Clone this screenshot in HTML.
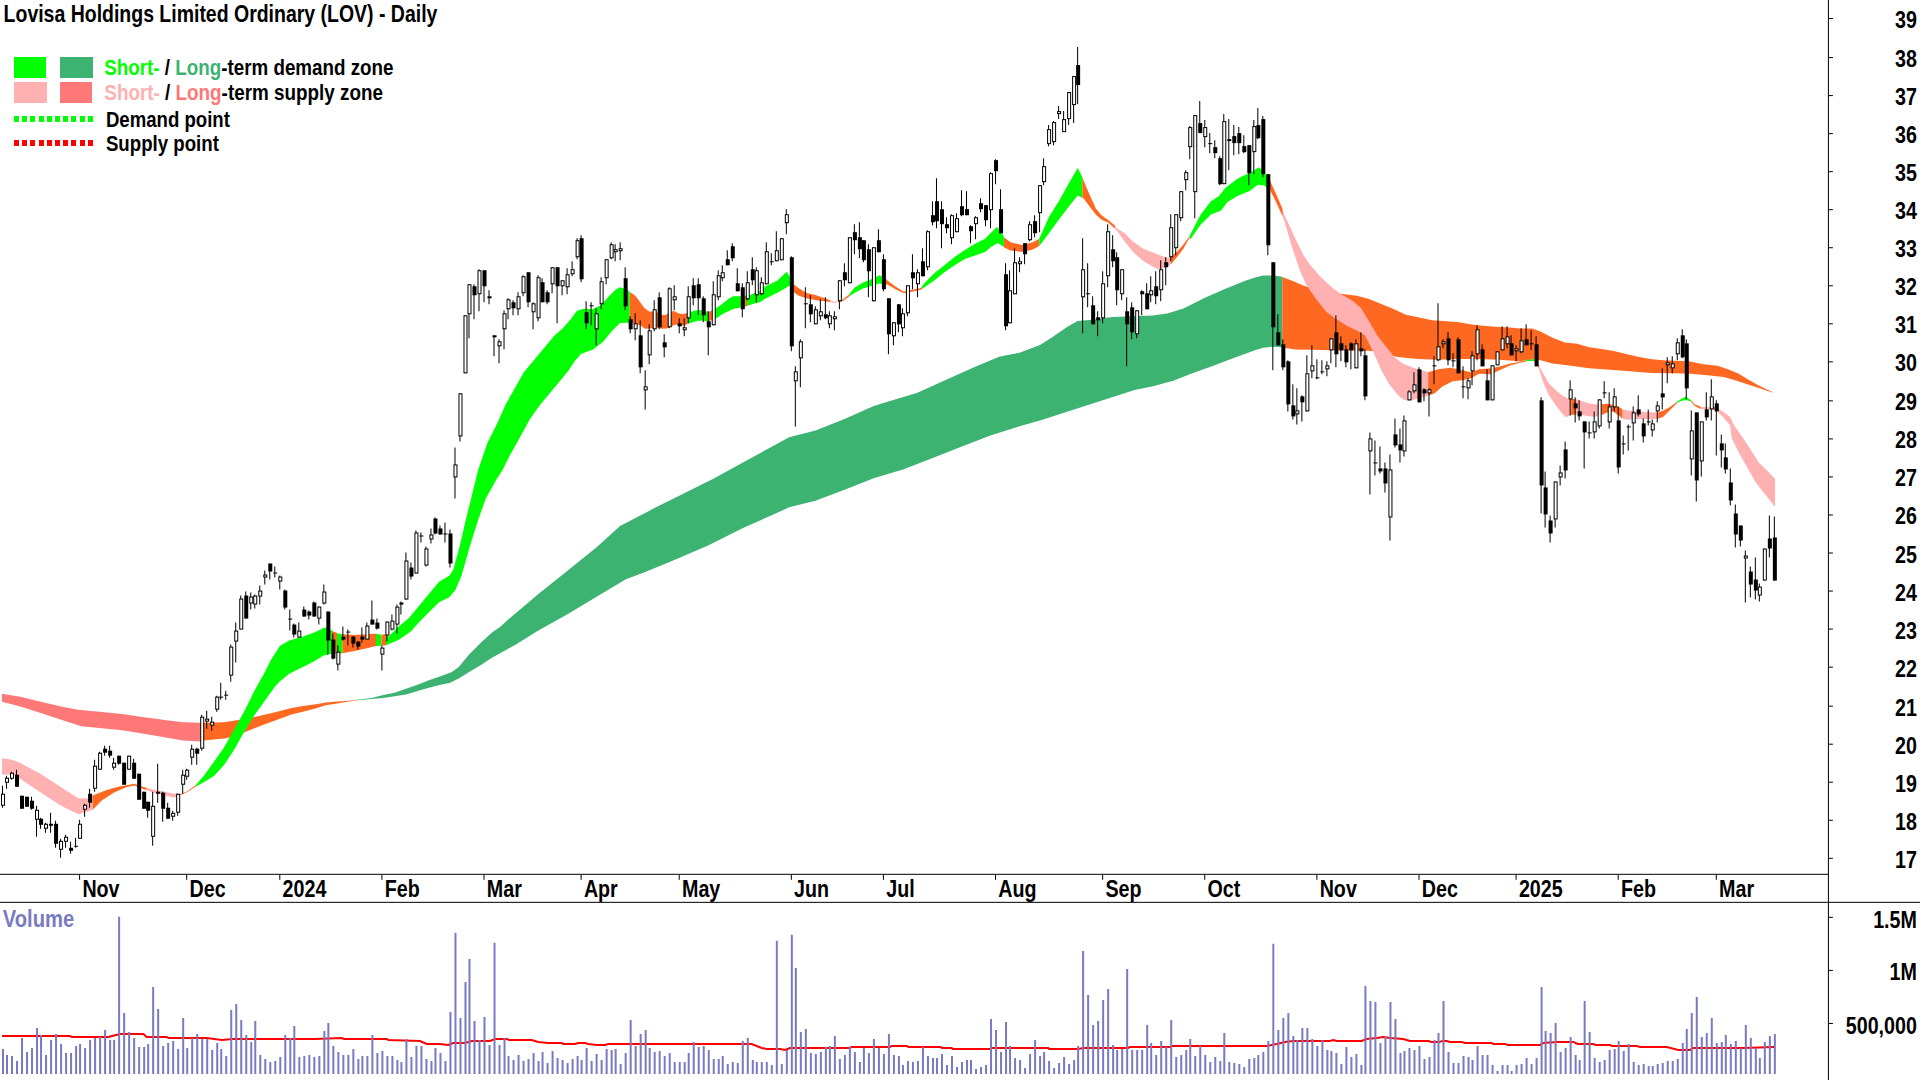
<!DOCTYPE html>
<html><head><meta charset="utf-8"><title>Lovisa Holdings Limited Ordinary (LOV) - Daily</title>
<style>html,body{margin:0;padding:0;background:#fff;}body{width:1920px;height:1080px;overflow:hidden;}svg{display:block;}text{font-family:"Liberation Sans", Arial, sans-serif;font-weight:bold;font-size:24px;}</style>
</head><body>
<svg width="1920" height="1080" viewBox="0 0 1920 1080">
<rect x="0" y="0" width="1920" height="1080" fill="#ffffff"/>
<g transform="scale(1.0010428,1.0009268)">
<g>
<polygon fill="#FF7878" points="2.0,693.0 2.0,693.0 20.3,696.0 40.7,701.1 61.0,705.8 78.3,709.2 101.7,711.3 122.1,713.3 142.4,716.4 162.8,719.0 183.1,721.5 200.4,722.1 202.3,722.1 202.3,740.2 200.4,740.8 183.1,739.8 162.8,736.3 142.4,732.7 122.1,729.6 101.7,727.6 81.4,725.5 61.0,719.0 40.7,712.3 20.3,705.8 2.0,701.1 2.0,701.1"/>
<polygon fill="#FF6820" points="202.3,722.1 203.5,722.1 223.8,721.5 238.1,719.4 254.3,716.4 270.6,712.7 279.7,710.4 291.2,707.3 302.6,705.3 314.0,703.9 325.5,701.8 336.9,700.9 348.4,700.1 356.9,699.2 356.9,699.6 348.4,700.9 336.9,702.8 325.5,704.7 314.0,708.1 302.6,711.0 291.2,713.9 279.7,718.1 264.5,723.5 254.3,727.6 244.2,731.6 232.0,736.3 223.8,737.7 203.5,739.8 202.3,740.2"/>
<polygon fill="#3CB371" points="356.9,699.2 357.0,699.2 371.3,697.3 382.7,694.4 394.2,692.1 405.6,688.1 417.1,684.1 428.5,679.5 440.0,675.5 451.4,671.5 458.3,666.4 468.6,653.8 480.0,642.3 491.5,632.0 499.5,626.3 508.6,618.2 537.8,593.4 566.9,570.1 596.0,546.8 619.4,525.5 654.3,507.4 683.5,492.9 712.6,478.3 741.7,462.3 770.9,446.3 788.3,436.9 814.6,430.2 843.7,418.6 872.8,405.5 887.4,401.1 916.5,392.3 945.7,379.2 974.8,366.1 998.1,356.5 1018.5,352.4 1038.9,344.8 1050.0,337.7 1066.3,326.5 1076.5,320.8 1090.7,319.4 1111.1,316.8 1131.4,316.0 1151.8,315.3 1166.0,313.3 1182.3,308.2 1202.6,298.0 1223.0,288.9 1243.3,280.8 1253.7,277.2 1261.8,275.2 1272.0,275.2 1280.6,276.6 1280.9,276.7 1280.9,347.1 1280.6,347.0 1272.0,346.4 1261.8,347.5 1253.7,349.9 1233.1,357.5 1212.8,365.2 1192.4,372.3 1172.1,380.5 1151.8,386.0 1133.4,389.6 1038.9,420.0 1018.5,425.9 989.4,435.2 960.2,446.3 931.1,457.9 902.0,469.0 872.8,477.7 843.7,489.4 814.6,500.2 788.3,506.9 770.9,514.7 741.7,527.8 706.8,545.3 668.9,561.4 642.7,572.1 625.2,578.8 596.0,596.3 566.9,613.8 537.8,629.8 514.5,644.4 499.5,652.6 491.5,657.2 480.0,664.6 468.6,671.5 458.3,677.8 449.1,682.4 440.0,684.1 428.5,687.0 417.1,690.4 405.6,693.8 394.2,695.6 382.7,697.3 371.3,698.4 357.0,699.6 356.9,699.6"/>
<polygon fill="#FF6820" points="1280.9,276.7 1290.3,280.3 1302.5,285.4 1314.7,289.5 1326.9,291.9 1339.2,293.5 1355.4,295.6 1367.6,298.6 1379.9,303.7 1392.1,308.8 1404.3,314.5 1416.5,316.9 1430.7,320.0 1445.0,321.0 1457.2,322.0 1473.5,324.7 1489.7,326.1 1508.0,327.1 1518.4,328.2 1530.6,328.2 1538.8,331.3 1551.0,337.4 1563.2,342.1 1575.4,343.5 1587.6,346.9 1599.8,348.6 1612.0,350.6 1624.2,353.7 1636.4,356.3 1648.6,358.7 1660.9,360.0 1673.1,360.4 1687.3,360.8 1701.5,363.8 1715.8,365.3 1726.0,368.9 1736.1,373.0 1746.3,379.1 1756.5,384.8 1764.6,388.9 1772.8,392.3 1773.2,392.3 1773.2,392.3 1772.8,392.3 1766.7,390.9 1758.5,388.2 1746.3,384.2 1734.1,380.1 1721.9,376.6 1705.6,375.0 1689.3,373.4 1669.0,373.0 1648.6,372.6 1628.3,370.9 1607.9,369.3 1587.6,367.9 1569.3,365.3 1551.0,363.2 1538.8,359.8 1530.6,359.1 1518.4,360.8 1497.9,359.3 1477.5,358.6 1457.2,358.6 1436.8,359.3 1416.5,358.6 1396.1,356.6 1375.8,351.5 1367.6,350.5 1345.3,350.1 1329.0,349.9 1310.7,349.5 1294.4,349.1 1280.9,347.1"/>
<polygon fill="#FFB0B0" points="2.0,757.5 2.0,757.5 12.2,759.1 20.3,762.2 40.7,773.4 61.0,786.6 78.3,797.4 89.5,797.8 92.6,794.7 92.6,794.7 92.6,808.9 92.6,809.0 89.5,810.0 78.3,813.6 61.0,804.9 40.7,791.7 20.3,778.4 15.3,775.4 10.2,774.0 2.0,773.8 2.0,773.8"/>
<polygon fill="#FF6820" points="92.6,794.7 105.8,789.6 118.0,786.0 134.3,783.1 142.4,786.0 146.5,787.1 146.5,789.5 142.4,788.0 134.3,784.7 126.2,786.6 113.9,791.7 101.7,799.8 92.6,808.9"/>
<polygon fill="#FFB0B0" points="146.5,787.1 152.6,788.8 158.7,790.0 173.0,792.7 177.0,792.7 177.8,793.1 177.8,795.3 177.0,795.7 173.0,796.8 158.7,793.3 152.6,791.7 146.5,789.5"/>
<polygon fill="#FF6820" points="177.8,793.1 179.1,793.7 187.2,790.6 195.3,784.5 195.4,784.5 195.4,785.9 195.3,786.0 187.2,791.3 179.1,794.7 177.8,795.3"/>
<polygon fill="#00FF00" points="195.4,784.5 203.5,775.4 213.7,761.1 223.8,746.9 234.0,728.6 244.2,710.3 254.3,689.9 264.5,671.6 270.6,659.4 279.7,645.2 288.9,640.0 302.6,636.0 314.0,632.0 324.3,626.9 327.8,628.0 331.7,630.2 331.7,653.2 327.8,653.8 323.2,654.9 314.0,660.6 302.6,666.4 288.9,673.2 279.7,680.7 274.7,685.8 264.5,700.1 254.3,714.3 244.2,730.6 234.0,748.9 223.8,764.2 213.7,775.4 203.5,781.5 195.4,785.9"/>
<polygon fill="#FF6820" points="331.7,630.2 331.8,630.3 336.6,632.5 336.6,652.9 331.8,653.2 331.7,653.2"/>
<polygon fill="#00FF00" points="336.6,632.5 336.9,632.6 342.1,633.7 342.1,633.7 342.1,652.6 342.1,652.6 336.6,652.9"/>
<polygon fill="#FF6820" points="342.1,633.7 354.1,634.3 365.6,633.7 375.6,633.2 375.6,645.5 365.6,648.0 354.1,650.3 342.1,652.6"/>
<polygon fill="#00FF00" points="375.6,633.2 375.6,633.2 381.0,634.1 381.0,645.2 375.6,645.5 375.6,645.5"/>
<polygon fill="#FF6820" points="381.0,634.1 381.0,634.1 385.6,633.4 385.6,633.4 385.6,644.6 385.6,644.6 381.0,645.2 381.0,645.2"/>
<polygon fill="#00FF00" points="385.6,633.4 387.7,636.3 397.9,626.1 408.1,617.9 418.3,605.7 428.4,593.5 438.6,581.3 448.8,575.2 452.8,569.1 459.0,546.7 465.1,520.3 471.2,495.8 475.2,479.6 477.6,469.6 486.7,443.1 496.9,422.7 505.0,404.4 515.2,386.1 523.3,371.9 533.5,359.7 543.7,347.5 553.9,335.2 562.0,328.1 570.1,319.0 576.2,310.8 582.3,308.4 592.5,308.8 600.7,304.7 608.8,295.6 614.9,289.5 619.4,287.0 626.6,289.2 629.1,292.1 629.1,322.7 626.6,322.4 619.4,322.7 610.8,331.2 602.7,341.3 592.5,349.1 580.3,353.6 574.2,360.7 568.1,369.8 560.0,380.0 549.8,392.2 539.6,404.4 529.4,418.7 519.3,437.0 509.1,455.3 502.0,469.6 495.6,479.6 485.4,497.9 477.3,520.3 469.1,546.7 461.0,575.2 454.9,589.4 448.8,596.6 438.6,601.7 428.4,611.8 418.3,622.0 410.1,631.2 397.9,639.3 385.6,644.6"/>
<polygon fill="#FF6820" points="629.1,292.1 629.2,292.1 633.9,294.7 638.3,300.1 643.4,307.4 648.5,311.1 652.1,311.1 657.2,312.2 661.6,314.7 665.2,314.7 668.9,311.8 673.3,310.7 677.6,312.9 682.0,314.0 685.6,312.9 687.1,312.5 687.1,323.5 683.5,325.3 679.1,324.9 674.7,324.2 670.3,326.4 666.0,328.2 661.6,328.5 655.8,327.1 649.9,328.2 644.1,328.5 639.7,324.9 633.9,323.5 629.2,322.7 629.1,322.7"/>
<polygon fill="#00FF00" points="687.1,312.5 689.3,311.8 695.1,310.3 699.5,309.6 705.3,311.1 707.2,311.3 707.2,321.1 706.8,321.3 702.4,320.5 696.6,320.5 692.2,322.0 687.8,323.1 687.1,323.5"/>
<polygon fill="#FF6820" points="707.2,311.3 708.9,311.4 711.2,310.3 711.2,319.8 711.1,319.8 707.2,321.1"/>
<polygon fill="#00FF00" points="711.2,310.3 714.0,308.9 721.3,303.8 728.6,298.0 732.3,296.1 738.8,296.1 743.2,295.8 744.2,295.6 744.2,306.3 743.2,306.7 738.8,307.4 733.0,308.5 727.2,311.1 721.3,314.0 716.2,317.6 711.2,319.8"/>
<polygon fill="#FF6820" points="744.2,295.6 746.2,295.4 746.2,305.7 744.2,306.3"/>
<polygon fill="#00FF00" points="746.2,295.4 749.0,295.0 753.4,292.9 759.2,291.0 764.4,286.3 776.6,280.2 785.7,271.4 788.8,276.1 789.8,278.4 789.8,287.1 788.8,285.3 785.7,287.3 776.6,292.4 764.4,298.5 759.2,302.0 753.4,303.1 747.6,305.2 746.2,305.7"/>
<polygon fill="#FF6820" points="789.8,278.4 791.9,283.3 796.9,287.3 805.1,292.4 815.3,295.1 825.4,298.5 829.1,299.9 829.1,301.8 825.4,301.2 815.3,299.9 805.1,297.9 796.9,295.1 791.9,291.0 789.8,287.1"/>
<polygon fill="#FFB0B0" points="829.1,299.9 833.6,301.6 837.6,300.6 837.6,301.8 833.6,302.6 829.1,301.8"/>
<polygon fill="#FF6820" points="837.6,300.6 841.7,299.5 847.8,294.4 848.8,293.3 848.8,295.8 847.8,296.5 841.7,301.0 837.6,301.8"/>
<polygon fill="#00FF00" points="848.8,293.3 853.9,287.3 862.1,282.2 872.2,278.2 878.3,275.1 883.4,277.1 884.4,278.1 884.4,284.3 883.4,284.3 878.3,283.3 872.2,285.3 862.1,288.3 853.9,292.4 848.8,295.8"/>
<polygon fill="#FF6820" points="884.4,278.1 886.5,280.2 894.6,286.3 902.8,291.4 910.9,289.4 920.0,287.7 921.0,286.3 921.0,288.7 920.0,289.4 910.9,291.4 902.8,293.0 894.6,288.9 886.5,284.3 884.4,284.3"/>
<polygon fill="#00FF00" points="921.0,286.3 923.1,283.3 933.3,273.1 943.4,264.9 953.6,256.8 963.8,249.7 974.0,243.6 984.1,238.5 990.2,232.4 995.3,227.3 996.1,226.8 1001.2,232.9 1002.8,237.0 1002.9,237.0 1002.9,246.8 1002.2,246.2 997.1,243.1 995.3,243.6 990.2,246.6 984.1,251.7 974.0,255.2 963.8,258.8 953.6,264.9 943.4,272.1 933.3,280.2 923.1,287.3 921.0,288.7"/>
<polygon fill="#FF6820" points="1002.9,237.0 1009.3,242.1 1021.5,244.7 1031.7,242.1 1037.4,239.0 1038.2,237.9 1038.2,245.6 1037.4,246.2 1031.7,249.2 1021.5,251.7 1009.3,250.2 1003.2,247.2 1002.9,246.8"/>
<polygon fill="#00FF00" points="1038.2,237.9 1038.8,237.0 1048.0,216.6 1058.2,200.4 1068.3,182.1 1071.5,176.5 1076.6,167.9 1080.6,175.5 1081.2,177.0 1081.2,197.6 1080.5,197.3 1076.5,195.3 1068.3,205.5 1058.2,218.7 1048.0,232.9 1038.8,245.1 1038.2,245.6"/>
<polygon fill="#FF6820" points="1081.2,177.0 1081.6,178.0 1086.6,190.2 1094.8,208.5 1100.9,215.6 1107.0,219.7 1113.1,224.8 1114.3,226.7 1114.3,229.1 1113.1,227.8 1107.0,222.3 1100.9,219.7 1094.8,214.6 1088.7,206.5 1082.6,198.3 1081.2,197.6"/>
<polygon fill="#FFB0B0" points="1114.3,226.7 1115.1,227.8 1123.3,232.9 1131.4,241.1 1141.6,248.2 1151.8,252.3 1161.9,256.3 1168.0,257.8 1169.5,256.7 1169.5,263.9 1166.0,266.5 1157.9,269.2 1151.8,266.5 1141.6,260.4 1131.4,251.2 1123.3,241.1 1116.1,230.9 1114.3,229.1"/>
<polygon fill="#FF6820" points="1169.5,256.7 1170.1,256.3 1176.2,251.2 1182.3,244.1 1188.0,236.6 1188.3,235.6 1188.4,235.5 1188.4,238.2 1188.0,238.0 1182.3,248.2 1176.2,256.3 1170.1,263.5 1169.5,263.9"/>
<polygon fill="#00FF00" points="1188.4,235.5 1199.5,214.2 1209.7,201.0 1217.8,195.9 1223.9,187.8 1236.1,178.6 1244.3,174.6 1252.4,170.5 1257.5,167.0 1262.6,171.5 1266.2,176.0 1266.2,187.5 1262.6,185.3 1256.5,184.7 1248.3,190.8 1236.1,195.9 1225.9,202.0 1219.8,210.2 1209.7,214.2 1199.5,224.4 1189.3,238.7 1188.4,238.2"/>
<polygon fill="#FF6820" points="1266.2,176.0 1266.6,176.6 1268.7,180.7 1274.8,193.9 1280.9,208.1 1281.4,209.6 1281.4,216.5 1280.9,215.3 1274.8,202.0 1268.7,189.8 1266.6,187.8 1266.2,187.5"/>
<polygon fill="#FFB0B0" points="1281.4,209.6 1282.9,214.2 1286.0,220.7 1294.2,239.0 1302.3,255.3 1308.6,264.5 1318.8,276.2 1331.0,287.4 1339.2,293.5 1351.4,300.6 1359.5,307.8 1367.6,321.0 1375.8,335.2 1383.9,345.4 1392.1,355.6 1400.2,362.7 1408.3,366.2 1416.5,368.8 1426.7,371.9 1426.7,371.9 1426.7,395.3 1426.7,395.3 1408.3,400.4 1402.2,399.3 1396.1,394.3 1388.0,384.1 1379.9,369.8 1371.7,351.5 1363.6,335.2 1355.4,330.2 1345.3,325.5 1335.1,319.0 1324.9,311.8 1314.7,298.6 1308.6,289.9 1304.4,283.8 1298.3,269.6 1290.1,245.1 1282.9,220.3 1281.4,216.5"/>
<polygon fill="#FF6820" points="1426.7,371.9 1436.8,368.8 1449.0,367.4 1461.2,369.8 1469.4,371.9 1477.5,368.8 1489.7,367.8 1497.9,366.2 1508.0,363.3 1518.2,361.3 1524.4,360.0 1524.4,361.1 1518.2,362.3 1508.0,365.4 1497.9,369.8 1489.7,373.9 1477.5,373.5 1469.4,378.0 1461.2,380.0 1451.1,381.0 1440.9,386.1 1432.8,393.2 1426.7,395.3"/>
<polygon fill="#00FF00" points="1524.4,360.0 1526.4,359.7 1532.4,358.7 1532.4,360.7 1526.4,360.7 1524.4,361.1"/>
<polygon fill="#FF6820" points="1532.4,358.7 1532.5,358.6 1536.5,363.7 1537.4,365.3 1537.4,368.5 1536.5,365.8 1532.5,360.7 1532.4,360.7"/>
<polygon fill="#FFB0B0" points="1537.4,365.3 1541.9,373.6 1547.1,383.0 1553.4,389.2 1559.6,394.4 1565.9,398.1 1569.5,398.6 1569.5,414.7 1564.3,416.8 1559.6,412.1 1553.4,403.8 1547.1,394.4 1541.9,383.0 1537.4,368.5"/>
<polygon fill="#FF6820" points="1569.5,398.6 1569.5,398.6 1574.2,398.6 1574.2,414.2 1569.5,414.7 1569.5,414.7"/>
<polygon fill="#FFB0B0" points="1574.2,398.6 1574.2,398.6 1580.4,400.7 1586.7,402.8 1592.9,403.8 1600.2,403.8 1600.2,403.8 1600.2,414.7 1600.2,414.7 1592.9,416.3 1586.7,415.8 1580.4,414.7 1574.2,414.2 1574.2,414.2"/>
<polygon fill="#FF6820" points="1600.2,403.8 1605.4,403.3 1611.7,404.3 1616.9,406.4 1621.0,409.0 1621.0,418.4 1616.9,415.2 1611.7,411.1 1605.4,412.1 1600.2,414.7"/>
<polygon fill="#FFB0B0" points="1621.0,409.0 1621.0,409.0 1626.2,410.0 1632.5,410.6 1640.8,411.3 1648.1,411.9 1656.4,412.1 1656.4,418.4 1648.1,418.9 1640.8,418.6 1632.5,418.9 1626.2,419.4 1621.0,418.4 1621.0,418.4"/>
<polygon fill="#FF6820" points="1656.4,412.1 1656.4,412.1 1661.6,410.0 1667.8,406.9 1675.1,401.7 1675.2,401.7 1675.2,402.7 1675.1,402.8 1667.8,410.0 1661.6,416.3 1656.4,418.4 1656.4,418.4"/>
<polygon fill="#00FF00" points="1675.2,401.7 1679.3,398.6 1684.0,396.5 1689.1,399.6 1689.1,401.2 1684.0,399.6 1679.3,400.7 1675.2,402.7"/>
<polygon fill="#FF6820" points="1689.1,399.6 1689.2,399.6 1692.8,403.8 1699.0,406.4 1699.0,408.5 1692.8,405.4 1689.2,401.2 1689.1,401.2"/>
<polygon fill="#FFB0B0" points="1699.0,406.4 1699.1,406.4 1705.3,406.9 1712.1,406.4 1712.1,409.5 1705.3,409.0 1699.1,408.5 1699.0,408.5"/>
<polygon fill="#FF6820" points="1712.1,406.4 1712.6,406.4 1715.7,408.0 1715.7,411.1 1712.6,409.5 1712.1,409.5"/>
<polygon fill="#FFB0B0" points="1715.7,408.0 1720.9,411.1 1728.2,416.3 1732.1,424.9 1740.2,436.1 1748.3,448.3 1756.5,461.5 1764.6,469.6 1772.8,477.8 1773.2,477.8 1773.2,505.7 1772.8,505.7 1762.6,493.1 1754.5,482.9 1746.3,468.6 1738.2,454.4 1730.0,438.1 1728.2,424.6 1720.9,416.3 1715.7,411.1"/>
</g>
<g>
<path d="M2 785v22M6 775v13M11 771v8M16 769v17M21 795v13M26 796v10M31 796v13M36 805v31M40 817v11M45 822v10M50 812v20M55 820v27M60 838v19M65 834v13M70 841v12M75 837v10M79 819v19M84 803v13M89 788v19M94 759v32M99 751v18M104 745v10M109 745v12M113 757v12M118 755v9M123 762v22M128 755v14M133 758v20M138 773v26M143 791v17M147 801v16M152 791v54M157 763v39M162 791v30M167 802v16M172 810v10M177 793v22M182 769v24M186 768v11M191 744v20M196 747v17M201 714v36M206 710v18M211 716v14M216 695v16M220 682v17M225 690v9M230 644v37M235 622v40M240 595v34M245 591v27M250 592v17M254 594v14M259 585v19M264 570v14M269 563v16M274 566v11M279 575v14M284 589v20M289 609v21M293 623v14M298 622v15M303 606v10M308 610v9M313 601v15M318 606v18M323 584v20M327 611v43M332 633v26M337 645v25M342 626v14M347 629v16M352 636v11M357 641v8M361 627v15M366 622v17M371 600v24M376 618v11M381 645v25M386 621v20M391 614v16M396 604v29M400 601v13M405 552v47M410 562v17M415 530v43M420 532v10M425 546v20M430 528v15M434 517v17M439 525v9M444 522v20M449 529v38M454 447v51M459 393v48M464 315v58M468 284v54M473 284v35M478 269v42M483 270v32M488 290v14M493 335v21M498 339v24M503 310v39M507 298v21M512 300v15M517 292v23M522 275v21M527 272v35M532 302v27M537 275v46M541 278v24M546 290v14M551 267v26M556 267v56M561 280v15M566 268v26M571 261v15M576 238v21M580 235v47M585 301v28M590 302v23M595 308v37M600 277v32M605 259v25M610 242v17M614 244v17M619 242v18M624 267v43M629 316v17M634 313v27M639 320v53M644 370v39M648 324v40M653 300v31M658 292v37M663 334v23M668 287v41M673 285v25M678 318v15M683 318v18M687 286v37M692 278v27M697 278v37M702 296v26M707 311v44M712 281v44M717 270v30M721 265v16M726 250v15M731 243v18M736 268v23M741 283v34M746 271v29M751 257v28M755 267v35M760 277v18M765 242v42M770 253v12M775 231v30M780 238v22M785 209v25M790 256v95M794 366v60M799 339v48M804 287v41M809 295v27M814 306v18M819 299v21M824 297v22M828 311v17M833 311v19M838 280v29M843 263v23M848 237v46M853 224v30M858 222v36M862 240v22M867 244v53M872 247v54M877 229v23M882 254v37M887 298v56M892 322v23M897 304v28M901 308v28M906 285v31M911 254v35M916 269v28M921 248v28M926 230v40M931 201v24M935 178v50M940 201v47M945 217v16M950 214v30M955 213v19M960 190v26M965 191v24M969 225v18M974 216v23M979 198v14M984 205v21M989 172v56M994 159v25M999 189v44M1004 263v67M1008 270v53M1013 248v46M1018 257v15M1023 243v21M1028 221v20M1033 215v22M1038 185v47M1042 158v27M1047 125v21M1052 121v24M1057 106v13M1062 111v21M1067 92v33M1072 76v47M1076 47v57M1081 238v95M1086 263v44M1091 296v28M1096 311v25M1101 271v52M1106 224v63M1111 235v32M1115 252v53M1120 269v31M1125 297v69M1130 302v37M1135 310v28M1140 290v25M1145 283v26M1149 276v26M1154 271v33M1159 260v41M1164 257v28M1169 214v47M1174 214v41M1179 191v30M1184 170v20M1188 126v33M1193 115v103M1198 101v32M1203 120v27M1208 133v20M1213 140v18M1218 156v29M1222 114v70M1227 119v51M1232 125v30M1237 127v27M1242 135v18M1247 145v40M1252 120v54M1256 108v31M1261 116v61M1266 174v81M1271 262v108M1276 314v31M1281 339v31M1286 360v51M1291 384v35M1295 388v36M1300 395v26M1305 355v56M1310 345v33M1315 359v20M1320 360v14M1325 361v15M1329 338v25M1334 315v52M1339 336v25M1344 345v22M1349 342v27M1354 339v29M1359 332v24M1363 349v51M1368 432v62M1373 440v35M1378 446v27M1383 462v30M1388 454v86M1393 418v29M1398 428v34M1402 415v41M1407 390v10M1412 372v21M1417 367v35M1422 388v13M1427 388v28M1432 356v28M1436 303v58M1441 339v9M1446 332v33M1451 353v14M1456 337v36M1461 366v32M1466 378v21M1470 351v34M1475 325v35M1480 344v22M1485 369v31M1490 365v35M1495 351v14M1500 326v24M1505 326v22M1509 335v20M1514 345v16M1519 328v25M1524 324v21M1529 330v20M1534 336v30M1539 397v116M1543 471v56M1548 515v27M1553 481v46M1558 465v20M1563 441v37M1568 380v35M1573 397v25M1577 400v20M1582 421v47M1587 421v17M1592 411v27M1597 399v29M1602 381v17M1607 392v36M1612 388v23M1616 406v67M1621 435v19M1626 424v26M1631 406v34M1636 395v21M1641 418v24M1646 409v16M1650 419v17M1655 401v21M1660 368v41M1665 357v26M1670 356v17M1675 338v22M1680 329v29M1684 339v60M1689 410v65M1694 412v89M1699 421v55M1704 392v28M1709 379v41M1714 400v55M1719 434v33M1723 443v30M1728 468v37M1733 504v43M1738 525v21M1743 550v52M1748 566v31M1753 557v42M1757 583v18M1762 548v32M1767 515v42M1772 516v64" stroke="#000" stroke-width="1" fill="none" transform="translate(0.5,0)"/>
<g fill="#000"><rect x="15" y="774" width="4" height="12"/><rect x="20" y="795" width="4" height="13"/><rect x="25" y="796" width="4" height="10"/><rect x="30" y="800" width="4" height="8"/><rect x="39" y="818" width="4" height="6"/><rect x="49" y="823" width="4" height="2"/><rect x="54" y="823" width="4" height="20"/><rect x="69" y="847" width="4" height="3"/><rect x="74" y="845" width="4" height="1"/><rect x="88" y="793" width="4" height="9"/><rect x="103" y="748" width="4" height="4"/><rect x="108" y="750" width="4" height="5"/><rect x="117" y="755" width="4" height="8"/><rect x="122" y="762" width="4" height="22"/><rect x="132" y="762" width="4" height="16"/><rect x="137" y="773" width="4" height="26"/><rect x="142" y="791" width="4" height="17"/><rect x="146" y="801" width="4" height="9"/><rect x="156" y="791" width="4" height="2"/><rect x="161" y="792" width="4" height="16"/><rect x="166" y="807" width="4" height="11"/><rect x="195" y="748" width="4" height="5"/><rect x="219" y="696" width="4" height="1"/><rect x="224" y="694" width="4" height="1"/><rect x="244" y="595" width="4" height="23"/><rect x="268" y="563" width="4" height="8"/><rect x="273" y="572" width="4" height="1"/><rect x="283" y="590" width="4" height="17"/><rect x="288" y="618" width="4" height="1"/><rect x="292" y="624" width="4" height="10"/><rect x="302" y="609" width="4" height="7"/><rect x="307" y="611" width="4" height="4"/><rect x="312" y="602" width="4" height="14"/><rect x="326" y="611" width="4" height="29"/><rect x="331" y="639" width="4" height="19"/><rect x="341" y="636" width="4" height="3"/><rect x="346" y="631" width="4" height="1"/><rect x="351" y="636" width="4" height="7"/><rect x="356" y="641" width="4" height="5"/><rect x="360" y="636" width="4" height="3"/><rect x="370" y="619" width="4" height="5"/><rect x="375" y="622" width="4" height="6"/><rect x="399" y="602" width="4" height="2"/><rect x="409" y="567" width="4" height="9"/><rect x="419" y="535" width="4" height="1"/><rect x="433" y="518" width="4" height="15"/><rect x="438" y="528" width="4" height="6"/><rect x="443" y="533" width="4" height="1"/><rect x="448" y="533" width="4" height="30"/><rect x="472" y="286" width="4" height="9"/><rect x="482" y="270" width="4" height="16"/><rect x="487" y="296" width="4" height="2"/><rect x="492" y="335" width="4" height="2"/><rect x="511" y="302" width="4" height="6"/><rect x="526" y="272" width="4" height="30"/><rect x="540" y="282" width="4" height="20"/><rect x="545" y="292" width="4" height="10"/><rect x="555" y="267" width="4" height="19"/><rect x="579" y="238" width="4" height="41"/><rect x="584" y="312" width="4" height="11"/><rect x="589" y="305" width="4" height="1"/><rect x="623" y="278" width="4" height="28"/><rect x="628" y="319" width="4" height="10"/><rect x="638" y="335" width="4" height="32"/><rect x="657" y="297" width="4" height="30"/><rect x="662" y="342" width="4" height="5"/><rect x="677" y="323" width="4" height="3"/><rect x="691" y="285" width="4" height="13"/><rect x="696" y="284" width="4" height="14"/><rect x="701" y="298" width="4" height="17"/><rect x="706" y="321" width="4" height="6"/><rect x="725" y="259" width="4" height="6"/><rect x="730" y="246" width="4" height="12"/><rect x="735" y="283" width="4" height="8"/><rect x="740" y="287" width="4" height="22"/><rect x="750" y="269" width="4" height="11"/><rect x="769" y="261" width="4" height="1"/><rect x="789" y="257" width="4" height="89"/><rect x="803" y="303" width="4" height="1"/><rect x="808" y="304" width="4" height="10"/><rect x="823" y="314" width="4" height="4"/><rect x="842" y="272" width="4" height="8"/><rect x="852" y="232" width="4" height="8"/><rect x="857" y="237" width="4" height="12"/><rect x="861" y="240" width="4" height="20"/><rect x="866" y="249" width="4" height="22"/><rect x="876" y="240" width="4" height="12"/><rect x="881" y="259" width="4" height="30"/><rect x="886" y="298" width="4" height="36"/><rect x="896" y="304" width="4" height="20"/><rect x="910" y="272" width="4" height="6"/><rect x="920" y="261" width="4" height="15"/><rect x="930" y="215" width="4" height="7"/><rect x="934" y="201" width="4" height="20"/><rect x="939" y="209" width="4" height="15"/><rect x="944" y="224" width="4" height="4"/><rect x="959" y="206" width="4" height="9"/><rect x="964" y="209" width="4" height="6"/><rect x="968" y="226" width="4" height="5"/><rect x="978" y="203" width="4" height="6"/><rect x="983" y="205" width="4" height="15"/><rect x="993" y="160" width="4" height="11"/><rect x="998" y="209" width="4" height="24"/><rect x="1003" y="274" width="4" height="52"/><rect x="1022" y="243" width="4" height="11"/><rect x="1032" y="221" width="4" height="12"/><rect x="1075" y="65" width="4" height="20"/><rect x="1085" y="293" width="4" height="1"/><rect x="1090" y="305" width="4" height="19"/><rect x="1095" y="317" width="4" height="3"/><rect x="1110" y="249" width="4" height="12"/><rect x="1114" y="257" width="4" height="33"/><rect x="1124" y="311" width="4" height="13"/><rect x="1129" y="307" width="4" height="25"/><rect x="1139" y="291" width="4" height="3"/><rect x="1144" y="293" width="4" height="16"/><rect x="1153" y="286" width="4" height="10"/><rect x="1163" y="262" width="4" height="5"/><rect x="1197" y="123" width="4" height="10"/><rect x="1207" y="143" width="4" height="1"/><rect x="1212" y="147" width="4" height="6"/><rect x="1217" y="158" width="4" height="26"/><rect x="1226" y="139" width="4" height="2"/><rect x="1231" y="136" width="4" height="7"/><rect x="1236" y="133" width="4" height="10"/><rect x="1241" y="146" width="4" height="6"/><rect x="1246" y="145" width="4" height="28"/><rect x="1255" y="125" width="4" height="13"/><rect x="1260" y="119" width="4" height="55"/><rect x="1265" y="174" width="4" height="71"/><rect x="1270" y="262" width="4" height="65"/><rect x="1275" y="332" width="4" height="13"/><rect x="1280" y="344" width="4" height="23"/><rect x="1285" y="361" width="4" height="43"/><rect x="1290" y="405" width="4" height="11"/><rect x="1299" y="396" width="4" height="6"/><rect x="1314" y="377" width="4" height="1"/><rect x="1319" y="371" width="4" height="1"/><rect x="1333" y="332" width="4" height="22"/><rect x="1338" y="343" width="4" height="7"/><rect x="1343" y="349" width="4" height="13"/><rect x="1348" y="343" width="4" height="7"/><rect x="1358" y="348" width="4" height="3"/><rect x="1362" y="355" width="4" height="41"/><rect x="1372" y="462" width="4" height="1"/><rect x="1377" y="468" width="4" height="3"/><rect x="1382" y="468" width="4" height="15"/><rect x="1392" y="434" width="4" height="11"/><rect x="1397" y="444" width="4" height="6"/><rect x="1416" y="369" width="4" height="33"/><rect x="1421" y="389" width="4" height="4"/><rect x="1431" y="365" width="4" height="1"/><rect x="1445" y="338" width="4" height="22"/><rect x="1450" y="360" width="4" height="1"/><rect x="1455" y="339" width="4" height="34"/><rect x="1460" y="386" width="4" height="1"/><rect x="1479" y="349" width="4" height="17"/><rect x="1484" y="380" width="4" height="20"/><rect x="1508" y="343" width="4" height="12"/><rect x="1523" y="339" width="4" height="6"/><rect x="1528" y="343" width="4" height="1"/><rect x="1533" y="344" width="4" height="22"/><rect x="1538" y="400" width="4" height="85"/><rect x="1542" y="487" width="4" height="27"/><rect x="1547" y="520" width="4" height="13"/><rect x="1562" y="449" width="4" height="21"/><rect x="1572" y="403" width="4" height="5"/><rect x="1576" y="411" width="4" height="5"/><rect x="1581" y="421" width="4" height="11"/><rect x="1586" y="432" width="4" height="1"/><rect x="1601" y="392" width="4" height="1"/><rect x="1615" y="420" width="4" height="47"/><rect x="1620" y="443" width="4" height="1"/><rect x="1625" y="426" width="4" height="1"/><rect x="1635" y="409" width="4" height="5"/><rect x="1640" y="423" width="4" height="13"/><rect x="1645" y="421" width="4" height="1"/><rect x="1659" y="393" width="4" height="4"/><rect x="1679" y="335" width="4" height="22"/><rect x="1683" y="343" width="4" height="45"/><rect x="1693" y="412" width="4" height="68"/><rect x="1703" y="409" width="4" height="8"/><rect x="1713" y="403" width="4" height="8"/><rect x="1718" y="443" width="4" height="7"/><rect x="1722" y="457" width="4" height="12"/><rect x="1727" y="482" width="4" height="18"/><rect x="1732" y="513" width="4" height="21"/><rect x="1737" y="525" width="4" height="15"/><rect x="1747" y="571" width="4" height="13"/><rect x="1752" y="579" width="4" height="11"/><rect x="1766" y="538" width="4" height="10"/><rect x="1771" y="537" width="4" height="43"/></g>
<g fill="#fff" stroke="#000" stroke-width="1"><rect x="1.5" y="793.5" width="3" height="11"/><rect x="5.5" y="777.5" width="3" height="4"/><rect x="10.5" y="772.5" width="3" height="5"/><rect x="35.5" y="809.5" width="3" height="9"/><rect x="44.5" y="823.5" width="3" height="4"/><rect x="59.5" y="840.5" width="3" height="8"/><rect x="64.5" y="836.5" width="3" height="4"/><rect x="78.5" y="823.5" width="3" height="14"/><rect x="83.5" y="804.5" width="3" height="4"/><rect x="93.5" y="765.5" width="3" height="22"/><rect x="98.5" y="752.5" width="3" height="16"/><rect x="112.5" y="762.5" width="3" height="4"/><rect x="127.5" y="755.5" width="3" height="13"/><rect x="151.5" y="805.5" width="3" height="30"/><rect x="171.5" y="812.5" width="3" height="3"/><rect x="176.5" y="793.5" width="3" height="18"/><rect x="181.5" y="774.5" width="3" height="9"/><rect x="185.5" y="769.5" width="3" height="6"/><rect x="190.5" y="748.5" width="3" height="8"/><rect x="200.5" y="716.5" width="3" height="31"/><rect x="205.5" y="718.5" width="3" height="2"/><rect x="210.5" y="721.5" width="3" height="3"/><rect x="215.5" y="696.5" width="3" height="12"/><rect x="229.5" y="646.5" width="3" height="28"/><rect x="234.5" y="630.5" width="3" height="10"/><rect x="239.5" y="598.5" width="3" height="30"/><rect x="249.5" y="596.5" width="3" height="6"/><rect x="253.5" y="595.5" width="3" height="8"/><rect x="258.5" y="590.5" width="3" height="5"/><rect x="263.5" y="574.5" width="3" height="2"/><rect x="278.5" y="576.5" width="3" height="4"/><rect x="297.5" y="630.5" width="3" height="6"/><rect x="317.5" y="606.5" width="3" height="11"/><rect x="322.5" y="591.5" width="3" height="11"/><rect x="336.5" y="651.5" width="3" height="12"/><rect x="365.5" y="625.5" width="3" height="13"/><rect x="380.5" y="647.5" width="3" height="6"/><rect x="385.5" y="621.5" width="3" height="13"/><rect x="390.5" y="620.5" width="3" height="8"/><rect x="395.5" y="606.5" width="3" height="17"/><rect x="404.5" y="560.5" width="3" height="38"/><rect x="414.5" y="532.5" width="3" height="40"/><rect x="424.5" y="548.5" width="3" height="16"/><rect x="429.5" y="534.5" width="3" height="4"/><rect x="453.5" y="464.5" width="3" height="12"/><rect x="458.5" y="393.5" width="3" height="42"/><rect x="463.5" y="315.5" width="3" height="57"/><rect x="467.5" y="284.5" width="3" height="29"/><rect x="477.5" y="270.5" width="3" height="23"/><rect x="497.5" y="341.5" width="3" height="4"/><rect x="502.5" y="313.5" width="3" height="15"/><rect x="506.5" y="299.5" width="3" height="9"/><rect x="516.5" y="296.5" width="3" height="12"/><rect x="521.5" y="276.5" width="3" height="16"/><rect x="531.5" y="303.5" width="3" height="8"/><rect x="536.5" y="277.5" width="3" height="40"/><rect x="550.5" y="267.5" width="3" height="16"/><rect x="560.5" y="280.5" width="3" height="5"/><rect x="565.5" y="274.5" width="3" height="12"/><rect x="570.5" y="269.5" width="3" height="4"/><rect x="575.5" y="240.5" width="3" height="16"/><rect x="594.5" y="313.5" width="3" height="15"/><rect x="599.5" y="281.5" width="3" height="22"/><rect x="604.5" y="259.5" width="3" height="18"/><rect x="609.5" y="244.5" width="3" height="13"/><rect x="613.5" y="249.5" width="3" height="2"/><rect x="618.5" y="248.5" width="3" height="2"/><rect x="633.5" y="323.5" width="3" height="5"/><rect x="643.5" y="386.5" width="3" height="3"/><rect x="647.5" y="330.5" width="3" height="24"/><rect x="652.5" y="309.5" width="3" height="19"/><rect x="667.5" y="288.5" width="3" height="38"/><rect x="672.5" y="296.5" width="3" height="3"/><rect x="682.5" y="327.5" width="3" height="2"/><rect x="686.5" y="296.5" width="3" height="21"/><rect x="711.5" y="294.5" width="3" height="30"/><rect x="716.5" y="275.5" width="3" height="21"/><rect x="720.5" y="272.5" width="3" height="5"/><rect x="745.5" y="282.5" width="3" height="16"/><rect x="754.5" y="270.5" width="3" height="24"/><rect x="759.5" y="282.5" width="3" height="11"/><rect x="764.5" y="251.5" width="3" height="32"/><rect x="774.5" y="250.5" width="3" height="10"/><rect x="779.5" y="238.5" width="3" height="21"/><rect x="784.5" y="214.5" width="3" height="8"/><rect x="793.5" y="371.5" width="3" height="9"/><rect x="798.5" y="341.5" width="3" height="16"/><rect x="813.5" y="309.5" width="3" height="14"/><rect x="818.5" y="311.5" width="3" height="4"/><rect x="827.5" y="315.5" width="3" height="8"/><rect x="832.5" y="316.5" width="3" height="2"/><rect x="837.5" y="280.5" width="3" height="20"/><rect x="847.5" y="237.5" width="3" height="45"/><rect x="871.5" y="247.5" width="3" height="53"/><rect x="891.5" y="322.5" width="3" height="13"/><rect x="900.5" y="313.5" width="3" height="14"/><rect x="905.5" y="285.5" width="3" height="27"/><rect x="915.5" y="272.5" width="3" height="11"/><rect x="925.5" y="231.5" width="3" height="35"/><rect x="949.5" y="215.5" width="3" height="22"/><rect x="954.5" y="218.5" width="3" height="13"/><rect x="973.5" y="217.5" width="3" height="6"/><rect x="988.5" y="173.5" width="3" height="36"/><rect x="1007.5" y="290.5" width="3" height="32"/><rect x="1012.5" y="262.5" width="3" height="31"/><rect x="1017.5" y="261.5" width="3" height="2"/><rect x="1027.5" y="224.5" width="3" height="15"/><rect x="1037.5" y="185.5" width="3" height="27"/><rect x="1041.5" y="166.5" width="3" height="15"/><rect x="1046.5" y="129.5" width="3" height="14"/><rect x="1051.5" y="122.5" width="3" height="19"/><rect x="1056.5" y="111.5" width="3" height="2"/><rect x="1061.5" y="119.5" width="3" height="12"/><rect x="1066.5" y="92.5" width="3" height="26"/><rect x="1071.5" y="76.5" width="3" height="28"/><rect x="1080.5" y="269.5" width="3" height="27"/><rect x="1100.5" y="283.5" width="3" height="34"/><rect x="1105.5" y="231.5" width="3" height="44"/><rect x="1119.5" y="269.5" width="3" height="24"/><rect x="1134.5" y="310.5" width="3" height="23"/><rect x="1148.5" y="290.5" width="3" height="4"/><rect x="1158.5" y="269.5" width="3" height="20"/><rect x="1168.5" y="227.5" width="3" height="29"/><rect x="1173.5" y="214.5" width="3" height="33"/><rect x="1178.5" y="191.5" width="3" height="26"/><rect x="1183.5" y="172.5" width="3" height="7"/><rect x="1187.5" y="127.5" width="3" height="19"/><rect x="1192.5" y="115.5" width="3" height="76"/><rect x="1202.5" y="127.5" width="3" height="9"/><rect x="1221.5" y="121.5" width="3" height="62"/><rect x="1251.5" y="126.5" width="3" height="25"/><rect x="1294.5" y="410.5" width="3" height="3"/><rect x="1304.5" y="373.5" width="3" height="37"/><rect x="1309.5" y="365.5" width="3" height="5"/><rect x="1324.5" y="365.5" width="3" height="3"/><rect x="1328.5" y="338.5" width="3" height="11"/><rect x="1353.5" y="343.5" width="3" height="24"/><rect x="1367.5" y="438.5" width="3" height="12"/><rect x="1387.5" y="469.5" width="3" height="47"/><rect x="1401.5" y="420.5" width="3" height="30"/><rect x="1406.5" y="391.5" width="3" height="8"/><rect x="1411.5" y="384.5" width="3" height="6"/><rect x="1426.5" y="389.5" width="3" height="3"/><rect x="1435.5" y="346.5" width="3" height="13"/><rect x="1440.5" y="341.5" width="3" height="2"/><rect x="1465.5" y="380.5" width="3" height="7"/><rect x="1469.5" y="355.5" width="3" height="15"/><rect x="1474.5" y="329.5" width="3" height="24"/><rect x="1489.5" y="365.5" width="3" height="34"/><rect x="1494.5" y="351.5" width="3" height="13"/><rect x="1499.5" y="338.5" width="3" height="11"/><rect x="1504.5" y="336.5" width="3" height="7"/><rect x="1513.5" y="348.5" width="3" height="2"/><rect x="1518.5" y="340.5" width="3" height="11"/><rect x="1552.5" y="481.5" width="3" height="37"/><rect x="1557.5" y="472.5" width="3" height="4"/><rect x="1567.5" y="389.5" width="3" height="9"/><rect x="1591.5" y="421.5" width="3" height="10"/><rect x="1596.5" y="399.5" width="3" height="26"/><rect x="1606.5" y="406.5" width="3" height="15"/><rect x="1611.5" y="396.5" width="3" height="10"/><rect x="1630.5" y="412.5" width="3" height="10"/><rect x="1649.5" y="423.5" width="3" height="6"/><rect x="1654.5" y="405.5" width="3" height="5"/><rect x="1664.5" y="362.5" width="3" height="2"/><rect x="1669.5" y="363.5" width="3" height="4"/><rect x="1674.5" y="342.5" width="3" height="11"/><rect x="1688.5" y="430.5" width="3" height="28"/><rect x="1698.5" y="421.5" width="3" height="39"/><rect x="1708.5" y="396.5" width="3" height="12"/><rect x="1742.5" y="555.5" width="3" height="2"/><rect x="1756.5" y="586.5" width="3" height="8"/><rect x="1761.5" y="548.5" width="3" height="31"/></g>
</g>
<g>
<polyline fill="none" stroke="#FF0000" stroke-width="2" points="2.0,1035.0 69.9,1035.0 71.6,1036.0 108.2,1036.0 119.9,1033.0 143.2,1033.0 146.5,1036.0 166.5,1036.0 168.1,1037.0 206.5,1037.0 221.5,1039.0 233.1,1038.0 314.7,1038.0 341.3,1037.0 343.8,1038.0 386.3,1038.0 387.9,1039.0 419.6,1040.0 426.3,1043.0 439.5,1043.0 447.8,1044.0 452.8,1042.0 464.5,1042.0 471.2,1040.0 489.5,1040.0 494.5,1038.0 506.2,1038.0 508.7,1039.0 531.1,1039.0 537.7,1041.0 547.7,1042.0 561.1,1042.0 562.7,1043.0 574.4,1043.0 577.7,1042.0 584.4,1042.0 587.7,1043.0 596.1,1044.0 604.4,1044.0 607.7,1043.0 629.3,1043.0 631.0,1043.0 750.9,1043.0 760.9,1047.0 765.9,1048.0 779.2,1048.0 784.2,1049.0 789.2,1047.0 849.1,1047.0 850.8,1046.0 889.1,1046.0 890.8,1045.0 905.8,1045.0 907.4,1046.0 939.0,1046.0 941.5,1047.0 944.0,1047.0 948.2,1047.0 950.7,1047.0 951.5,1048.0 989.0,1048.0 990.7,1047.0 1047.2,1047.0 1048.1,1048.0 1077.2,1048.0 1082.2,1047.0 1127.1,1047.0 1128.8,1046.0 1168.8,1046.0 1170.5,1045.0 1258.7,1045.0 1262.9,1045.0 1265.4,1045.0 1275.4,1043.0 1283.7,1041.0 1292.0,1040.0 1328.6,1040.0 1331.9,1039.0 1335.3,1040.0 1360.3,1040.0 1365.3,1038.0 1375.3,1037.0 1381.9,1036.0 1388.6,1037.0 1401.8,1038.0 1408.5,1040.0 1426.8,1040.0 1430.2,1041.0 1436.8,1041.0 1441.8,1040.0 1445.2,1040.0 1448.5,1041.0 1460.2,1041.0 1463.5,1042.0 1490.1,1042.0 1491.7,1043.0 1503.4,1043.0 1506.7,1044.0 1538.4,1044.0 1541.7,1042.0 1555.1,1041.0 1558.4,1041.0 1571.7,1041.0 1575.9,1043.0 1576.7,1043.0 1577.6,1043.0 1591.6,1043.0 1594.1,1044.0 1608.3,1044.0 1610.0,1045.0 1635.0,1045.0 1638.3,1046.0 1665.0,1046.0 1676.6,1049.0 1688.2,1049.0 1691.5,1047.0 1741.5,1047.0 1772.4,1046.0"/>
<path d="M3 1048v25M7 1054v19M12 1055v18M17 1060v13M22 1037v36M27 1051v22M32 1047v26M37 1027v46M41 1034v39M46 1054v19M51 1039v34M56 1033v40M61 1043v30M66 1052v21M71 1052v21M76 1045v28M80 1043v30M85 1047v26M90 1039v34M95 1037v36M100 1036v37M105 1029v44M110 1039v34M114 1039v34M119 916v157M124 1012v61M129 1031v42M134 1037v36M139 1046v27M144 1046v27M148 1043v30M153 986v87M158 1008v65M163 1045v28M168 1042v31M173 1040v33M178 1048v25M183 1017v56M187 1047v26M192 1037v36M197 1033v40M202 1038v35M207 1038v35M212 1049v24M217 1042v31M221 1048v25M226 1055v18M231 1009v64M236 1003v70M241 1019v54M246 1034v39M251 1041v32M255 1020v53M260 1054v19M265 1058v15M270 1061v12M275 1060v13M280 1056v17M285 1034v39M290 1037v36M294 1025v48M299 1056v17M304 1055v18M309 1054v19M314 1056v17M319 1055v18M324 1030v43M328 1022v51M333 1045v28M338 1051v22M343 1054v19M348 1054v19M353 1048v25M358 1058v15M362 1055v18M367 1055v18M372 1034v39M377 1052v21M382 1050v23M387 1055v18M392 1055v18M397 1059v14M401 1061v12M406 1038v35M411 1056v17M416 1045v28M421 1045v28M426 1058v15M431 1060v13M435 1047v26M440 1052v21M445 1060v13M450 1011v62M455 932v141M460 1017v56M465 981v92M469 958v115M474 1020v53M479 1039v34M484 1016v57M489 1044v29M494 942v131M499 1044v29M504 1037v36M508 1055v18M513 1059v14M518 1054v19M523 1060v13M528 1058v15M533 1052v21M538 1060v13M542 1051v22M547 1062v11M552 1050v23M557 1057v16M562 1059v14M567 1062v11M572 1058v15M577 1055v18M581 1059v14M586 1047v26M591 1060v13M596 1053v20M601 1059v14M606 1048v25M611 1049v24M615 1048v25M620 1063v10M625 1052v21M630 1019v54M635 1045v28M640 1033v40M645 1029v44M649 1047v26M654 1051v22M659 1050v23M664 1055v18M669 1052v21M674 1061v12M679 1061v12M684 1061v12M688 1052v21M693 1041v32M698 1046v27M703 1045v28M708 1049v24M713 1058v15M718 1058v15M722 1055v18M727 1063v10M732 1061v12M737 1062v11M742 1040v33M747 1037v36M752 1059v14M756 1061v12M761 1061v12M766 1061v12M771 1064v9M776 940v133M781 1063v10M786 1049v24M791 934v139M795 967v106M800 1031v42M805 1028v45M810 1052v21M815 1053v20M820 1051v22M825 1046v27M829 1045v28M834 1035v38M839 1058v15M844 1054v19M849 1046v27M854 1051v22M859 1061v12M863 1047v26M868 1052v21M873 1038v35M878 1047v26M883 1053v20M888 1033v40M893 1054v19M898 1055v18M902 1064v9M907 1060v13M912 1061v12M917 1060v13M922 1046v27M927 1055v18M932 1057v16M936 1057v16M941 1053v20M946 1064v9M951 1055v18M956 1066v7M961 1061v12M966 1059v14M970 1059v14M975 1068v5M980 1066v7M985 1064v9M990 1018v55M995 1029v44M1000 1051v22M1005 1021v52M1009 1045v28M1014 1057v16M1019 1059v14M1024 1067v6M1029 1053v20M1034 1039v34M1039 1055v18M1043 1051v22M1048 1060v13M1053 1067v6M1058 1062v11M1063 1056v17M1068 1063v10M1073 1059v14M1077 1045v28M1082 950v123M1087 994v79M1092 1024v49M1097 1020v53M1102 999v74M1107 988v85M1112 1044v29M1116 1049v24M1121 1048v25M1126 968v105M1131 1049v24M1136 1049v24M1141 1049v24M1146 1024v49M1150 1042v31M1155 1054v19M1160 1040v33M1165 1046v27M1170 1019v54M1175 1056v17M1180 1054v19M1185 1049v24M1189 1038v35M1194 1055v18M1199 1045v28M1204 1054v19M1209 1061v12M1214 1056v17M1219 1060v13M1223 1032v41M1228 1061v12M1233 1062v11M1238 1063v10M1243 1066v7M1248 1058v15M1253 1057v16M1257 1054v19M1262 1051v22M1267 1040v33M1272 943v130M1277 1029v44M1282 1017v56M1287 1012v61M1292 1035v38M1296 1039v34M1301 1027v46M1306 1027v46M1311 1038v35M1316 1045v28M1321 1039v34M1326 1049v24M1330 1050v23M1335 1052v21M1340 1063v10M1345 1046v27M1350 1056v17M1355 1053v20M1360 1064v9M1364 985v88M1369 1000v73M1374 1001v72M1379 1042v31M1384 1036v37M1389 1001v72M1394 1018v55M1399 1052v21M1403 1050v23M1408 1047v26M1413 1049v24M1418 1045v28M1423 1058v15M1428 1056v17M1433 1039v34M1437 1032v41M1442 1000v73M1447 1051v22M1452 1062v11M1457 1062v11M1462 1055v18M1467 1056v17M1471 1059v14M1476 1045v28M1481 1054v19M1486 1054v19M1491 1064v9M1496 1070v3M1501 1064v9M1506 1064v9M1510 1070v3M1515 1064v9M1520 1063v10M1525 1057v16M1530 1063v10M1535 1057v16M1540 986v87M1544 1030v43M1549 1032v41M1554 1022v51M1559 1051v22M1564 1047v26M1569 1036v37M1574 1054v19M1578 1059v14M1583 1000v73M1588 1031v42M1593 1057v16M1598 1061v12M1603 1059v14M1608 1049v24M1613 1048v25M1617 1040v33M1622 1050v23M1627 1043v30M1632 1061v12M1637 1064v9M1642 1063v10M1647 1065v8M1651 1065v8M1656 1063v10M1661 1062v11M1666 1060v13M1671 1060v13M1676 1058v15M1681 1042v31M1685 1028v45M1690 1012v61M1695 996v77M1700 1036v37M1705 1032v41M1710 1017v56M1715 1042v31M1720 1041v32M1724 1034v39M1729 1043v30M1734 1040v33M1739 1047v26M1744 1024v49M1749 1037v36M1754 1047v26M1758 1057v16M1763 1041v32M1768 1035v38M1773 1033v40" stroke="#7A7AC2" stroke-width="2" fill="none"/>
</g>
<g fill="#000">
<rect x="1826" y="0" width="1" height="1079"/>
<rect x="0" y="873" width="1827" height="1"/>
<rect x="0" y="901" width="1918" height="1"/>
<rect x="1827" y="857" width="4" height="1"/><rect x="1827" y="819" width="4" height="1"/><rect x="1827" y="781" width="4" height="1"/><rect x="1827" y="743" width="4" height="1"/><rect x="1827" y="705" width="4" height="1"/><rect x="1827" y="666" width="4" height="1"/><rect x="1827" y="628" width="4" height="1"/><rect x="1827" y="590" width="4" height="1"/><rect x="1827" y="552" width="4" height="1"/><rect x="1827" y="514" width="4" height="1"/><rect x="1827" y="476" width="4" height="1"/><rect x="1827" y="438" width="4" height="1"/><rect x="1827" y="400" width="4" height="1"/><rect x="1827" y="361" width="4" height="1"/><rect x="1827" y="323" width="4" height="1"/><rect x="1827" y="285" width="4" height="1"/><rect x="1827" y="247" width="4" height="1"/><rect x="1827" y="209" width="4" height="1"/><rect x="1827" y="171" width="4" height="1"/><rect x="1827" y="133" width="4" height="1"/><rect x="1827" y="95" width="4" height="1"/><rect x="1827" y="57" width="4" height="1"/><rect x="1827" y="18" width="4" height="1"/><rect x="1827" y="916" width="4" height="1"/><rect x="1827" y="969" width="4" height="1"/><rect x="1827" y="1022" width="4" height="1"/><rect x="79" y="874" width="1" height="5"/><rect x="186" y="874" width="1" height="5"/><rect x="279" y="874" width="1" height="5"/><rect x="381" y="874" width="1" height="5"/><rect x="483" y="874" width="1" height="5"/><rect x="580" y="874" width="1" height="5"/><rect x="678" y="874" width="1" height="5"/><rect x="790" y="874" width="1" height="5"/><rect x="882" y="874" width="1" height="5"/><rect x="994" y="874" width="1" height="5"/><rect x="1101" y="874" width="1" height="5"/><rect x="1203" y="874" width="1" height="5"/><rect x="1315" y="874" width="1" height="5"/><rect x="1417" y="874" width="1" height="5"/><rect x="1514" y="874" width="1" height="5"/><rect x="1616" y="874" width="1" height="5"/><rect x="1714" y="874" width="1" height="5"/>
</g>
</g>
<text x="1916.90" y="868.0" text-anchor="end" fill="#000" textLength="21.88" lengthAdjust="spacingAndGlyphs">17</text>
<text x="1916.90" y="830.0" text-anchor="end" fill="#000" textLength="21.88" lengthAdjust="spacingAndGlyphs">18</text>
<text x="1916.90" y="792.0" text-anchor="end" fill="#000" textLength="21.88" lengthAdjust="spacingAndGlyphs">19</text>
<text x="1916.90" y="754.0" text-anchor="end" fill="#000" textLength="21.88" lengthAdjust="spacingAndGlyphs">20</text>
<text x="1916.90" y="716.0" text-anchor="end" fill="#000" textLength="21.88" lengthAdjust="spacingAndGlyphs">21</text>
<text x="1916.90" y="677.0" text-anchor="end" fill="#000" textLength="21.88" lengthAdjust="spacingAndGlyphs">22</text>
<text x="1916.90" y="639.0" text-anchor="end" fill="#000" textLength="21.88" lengthAdjust="spacingAndGlyphs">23</text>
<text x="1916.90" y="601.0" text-anchor="end" fill="#000" textLength="21.88" lengthAdjust="spacingAndGlyphs">24</text>
<text x="1916.90" y="563.0" text-anchor="end" fill="#000" textLength="21.88" lengthAdjust="spacingAndGlyphs">25</text>
<text x="1916.90" y="524.0" text-anchor="end" fill="#000" textLength="21.88" lengthAdjust="spacingAndGlyphs">26</text>
<text x="1916.90" y="486.0" text-anchor="end" fill="#000" textLength="21.88" lengthAdjust="spacingAndGlyphs">27</text>
<text x="1916.90" y="448.0" text-anchor="end" fill="#000" textLength="21.88" lengthAdjust="spacingAndGlyphs">28</text>
<text x="1916.90" y="410.0" text-anchor="end" fill="#000" textLength="21.88" lengthAdjust="spacingAndGlyphs">29</text>
<text x="1916.90" y="371.0" text-anchor="end" fill="#000" textLength="21.88" lengthAdjust="spacingAndGlyphs">30</text>
<text x="1916.90" y="333.0" text-anchor="end" fill="#000" textLength="21.88" lengthAdjust="spacingAndGlyphs">31</text>
<text x="1916.90" y="295.0" text-anchor="end" fill="#000" textLength="21.88" lengthAdjust="spacingAndGlyphs">32</text>
<text x="1916.90" y="257.0" text-anchor="end" fill="#000" textLength="21.88" lengthAdjust="spacingAndGlyphs">33</text>
<text x="1916.90" y="219.0" text-anchor="end" fill="#000" textLength="21.88" lengthAdjust="spacingAndGlyphs">34</text>
<text x="1916.90" y="181.0" text-anchor="end" fill="#000" textLength="21.88" lengthAdjust="spacingAndGlyphs">35</text>
<text x="1916.90" y="143.0" text-anchor="end" fill="#000" textLength="21.88" lengthAdjust="spacingAndGlyphs">36</text>
<text x="1916.90" y="105.0" text-anchor="end" fill="#000" textLength="21.88" lengthAdjust="spacingAndGlyphs">37</text>
<text x="1916.90" y="67.0" text-anchor="end" fill="#000" textLength="21.88" lengthAdjust="spacingAndGlyphs">38</text>
<text x="1916.90" y="28.0" text-anchor="end" fill="#000" textLength="21.88" lengthAdjust="spacingAndGlyphs">39</text>
<text x="1916.90" y="928.0" text-anchor="end" fill="#000" textLength="43.75" lengthAdjust="spacingAndGlyphs">1.5M</text>
<text x="1916.90" y="980.0" text-anchor="end" fill="#000" textLength="27.34" lengthAdjust="spacingAndGlyphs">1M</text>
<text x="1916.90" y="1034.0" text-anchor="end" fill="#000" textLength="71.12" lengthAdjust="spacingAndGlyphs">500,000</text>
<text x="82.38" y="897.0" text-anchor="start" fill="#000" textLength="37.17" lengthAdjust="spacingAndGlyphs">Nov</text>
<text x="189.49" y="897.0" text-anchor="start" fill="#000" textLength="36.09" lengthAdjust="spacingAndGlyphs">Dec</text>
<text x="282.59" y="897.0" text-anchor="start" fill="#000" textLength="43.77" lengthAdjust="spacingAndGlyphs">2024</text>
<text x="384.70" y="897.0" text-anchor="start" fill="#000" textLength="34.98" lengthAdjust="spacingAndGlyphs">Feb</text>
<text x="486.80" y="897.0" text-anchor="start" fill="#000" textLength="35.00" lengthAdjust="spacingAndGlyphs">Mar</text>
<text x="583.90" y="897.0" text-anchor="start" fill="#000" textLength="33.89" lengthAdjust="spacingAndGlyphs">Apr</text>
<text x="682.01" y="897.0" text-anchor="start" fill="#000" textLength="38.28" lengthAdjust="spacingAndGlyphs">May</text>
<text x="794.12" y="897.0" text-anchor="start" fill="#000" textLength="34.98" lengthAdjust="spacingAndGlyphs">Jun</text>
<text x="886.22" y="897.0" text-anchor="start" fill="#000" textLength="28.43" lengthAdjust="spacingAndGlyphs">Jul</text>
<text x="998.34" y="897.0" text-anchor="start" fill="#000" textLength="38.25" lengthAdjust="spacingAndGlyphs">Aug</text>
<text x="1105.45" y="897.0" text-anchor="start" fill="#000" textLength="36.09" lengthAdjust="spacingAndGlyphs">Sep</text>
<text x="1207.55" y="897.0" text-anchor="start" fill="#000" textLength="32.81" lengthAdjust="spacingAndGlyphs">Oct</text>
<text x="1319.67" y="897.0" text-anchor="start" fill="#000" textLength="37.17" lengthAdjust="spacingAndGlyphs">Nov</text>
<text x="1421.78" y="897.0" text-anchor="start" fill="#000" textLength="36.09" lengthAdjust="spacingAndGlyphs">Dec</text>
<text x="1518.88" y="897.0" text-anchor="start" fill="#000" textLength="43.77" lengthAdjust="spacingAndGlyphs">2025</text>
<text x="1620.99" y="897.0" text-anchor="start" fill="#000" textLength="34.98" lengthAdjust="spacingAndGlyphs">Feb</text>
<text x="1719.09" y="897.0" text-anchor="start" fill="#000" textLength="35.00" lengthAdjust="spacingAndGlyphs">Mar</text>
<text x="2.80" y="927.0" text-anchor="start" fill="#7A7AC2" textLength="71.50" lengthAdjust="spacingAndGlyphs">Volume</text>
<text x="3.60" y="22.0" text-anchor="start" fill="#000" textLength="433.80" lengthAdjust="spacingAndGlyphs">Lovisa Holdings Limited Ordinary (LOV) - Daily</text>
<g shape-rendering="crispEdges">
<rect x="14" y="57" width="32" height="21" fill="#00FF00"/>
<rect x="60" y="57" width="33" height="21" fill="#3CB371"/>
<rect x="14" y="82" width="33" height="21" fill="#FFB0B0"/>
<rect x="60" y="82" width="32" height="21" fill="#FF7878"/>
<path d="M14 119H93" stroke="#00FF00" stroke-width="6" stroke-dasharray="5 3.2" fill="none"/>
<path d="M14 143H93" stroke="#FF0000" stroke-width="6" stroke-dasharray="5 3.2" fill="none"/>
</g>
<text x="104.30" y="75.3" style="font-size:22.67px" xml:space="preserve" textLength="289.20" lengthAdjust="spacingAndGlyphs"><tspan fill="#00FF00">Short-</tspan><tspan fill="#000"> / </tspan><tspan fill="#3CB371">Long</tspan><tspan fill="#000">-term demand zone</tspan></text>
<text x="104.30" y="100.3" style="font-size:22.67px" xml:space="preserve" textLength="278.70" lengthAdjust="spacingAndGlyphs"><tspan fill="#FFB0B0">Short-</tspan><tspan fill="#000"> / </tspan><tspan fill="#FF7878">Long</tspan><tspan fill="#000">-term supply zone</tspan></text>
<text x="105.90" y="126.8" text-anchor="start" fill="#000" textLength="124.00" lengthAdjust="spacingAndGlyphs" style="font-size:22.67px">Demand point</text>
<text x="105.90" y="150.8" text-anchor="start" fill="#000" textLength="113.00" lengthAdjust="spacingAndGlyphs" style="font-size:22.67px">Supply point</text>
</svg></body></html>
